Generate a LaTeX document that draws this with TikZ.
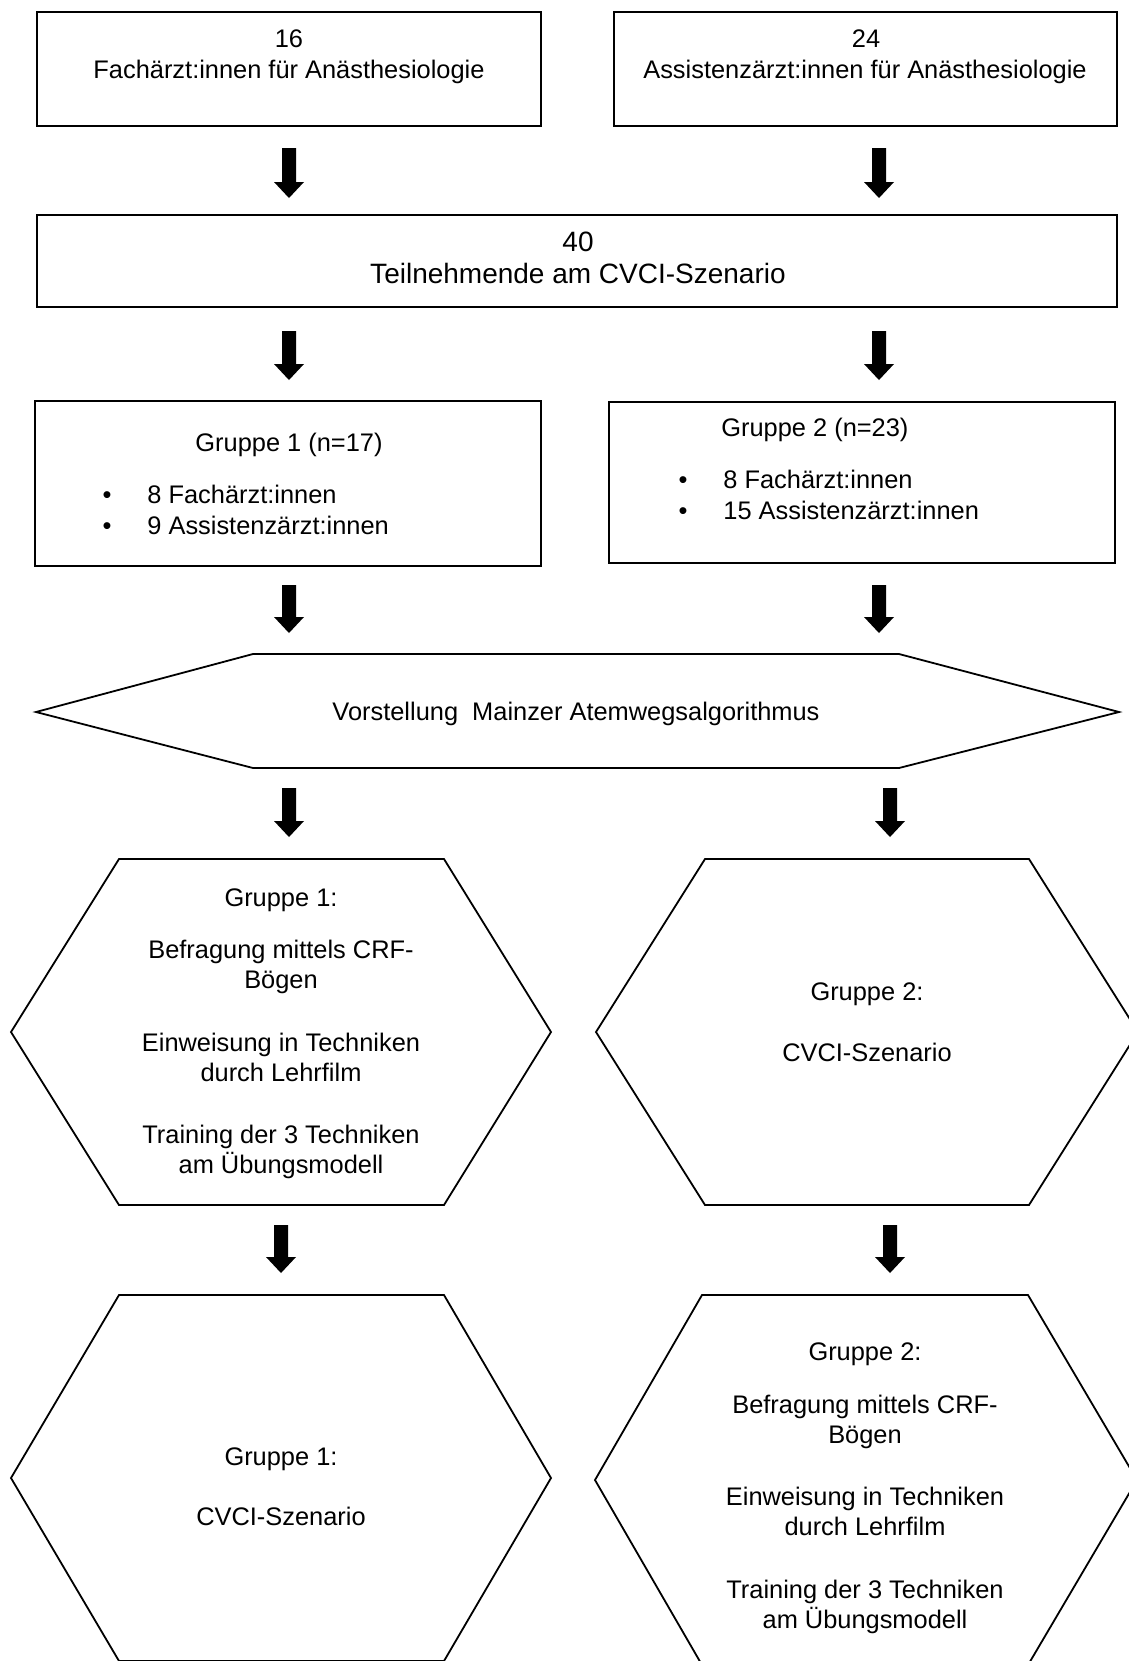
\documentclass[tikz,border=0pt]{standalone}
\usepackage{fontspec}
\setmainfont{Liberation Sans}
\usetikzlibrary{calc,fit}
\newcommand\blkarrow[2]{\fill ($(#1)+(-7,0)$) -- ($(#1)+(7,0)$) -- ($(#2)+(7,-16)$) -- ($(#2)+(15,-16)$) -- (#2) -- ($(#2)+(-15,-16)$) -- ($(#2)+(-7,-16)$) -- cycle;}
\begin{document}
\begin{tikzpicture}[x=0.5pt,y=-0.5pt,
  box/.style={draw, line width=1pt, inner sep=0pt},
  hex/.style={draw, line width=0.9pt, line join=miter},
  txt/.style={inner sep=0pt, anchor=base, font=\fontsize{12.7pt}{15.25pt}\selectfont},
  txtl/.style={txt, anchor=base west},
  big/.style={inner sep=0pt, anchor=base, font=\fontsize{14pt}{16.8pt}\selectfont},
]
\useasboundingbox (0,0) rectangle (1129,1661);
\clip (0,0) rectangle (1129,1661);

% ---- boxes ----
\node[box, fit={(37,12) (541,126)}] (box1) {};
\node[box, fit={(614,12) (1117,126)}] (box2) {};
\node[box, fit={(37,215) (1117,307)}] (box40) {};
\node[box, fit={(35,401) (541,566)}] (g1box) {};
\node[box, fit={(609,402) (1115,563)}] (g2box) {};

\node[txt] (t16) at (289,47) {16};
\node[txt] (t16b) at (289,78) {Fachärzt:innen für Anästhesiologie};
\node[txt] (t24) at (866,47) {24};
\node[txt] (t24b) at (865,78) {Assistenzärzt:innen für Anästhesiologie};
\node[big] (t40) at (578,251) {40};
\node[big] (t40b) at (578,283) {Teilnehmende am CVCI-Szenario};

\node[txt] (g1t) at (289,451) {Gruppe 1 (n=17)};
\node[txt] (g1b1) at (107,503) {•};
\node[txt] (g1b2) at (107,534) {•};
\node[txtl] (g1l1) at (147,503) {8 Fachärzt:innen};
\node[txtl] (g1l2) at (147,534) {9 Assistenzärzt:innen};

\node[txtl] (g2t) at (721,436) {Gruppe 2 (n=23)};
\node[txt] (g2b1) at (683,488) {•};
\node[txt] (g2b2) at (683,519) {•};
\node[txtl] (g2l1) at (723,488) {8 Fachärzt:innen};
\node[txtl] (g2l2) at (723,519) {15 Assistenzärzt:innen};

% ---- arrow-shaped hexagon ----
\draw[hex] (36,712) -- (253,654) -- (899,654) -- (1119,712) -- (899,768) -- (253,768) -- cycle;
\node[txt] (vor) at (576,720) {Vorstellung\ \ Mainzer Atemwegsalgorithmus};

% ---- hexagons ----
\draw[hex] (11,1032) -- (119,859) -- (444,859) -- (551,1032) -- (444,1205) -- (119,1205) -- cycle;
\node[txt] (h1a) at (281,906) {Gruppe 1:};
\node[txt] (h1b) at (281,958) {Befragung mittels CRF-};
\node[txt] (h1c) at (281,988) {Bögen};
\node[txt] (h1d) at (281,1051) {Einweisung in Techniken};
\node[txt] (h1e) at (281,1081) {durch Lehrfilm};
\node[txt] (h1f) at (281,1143) {Training der 3 Techniken};
\node[txt] (h1g) at (281,1173) {am Übungsmodell};

\draw[hex] (596,1032) -- (705,859) -- (1029,859) -- (1138,1032) -- (1029,1205) -- (705,1205) -- cycle;
\node[txt] (h2a) at (867,1000) {Gruppe 2:};
\node[txt] (h2b) at (867,1061) {CVCI-Szenario};

\draw[hex] (11,1478) -- (119,1295) -- (444,1295) -- (551,1478) -- (444,1661) -- (119,1661) -- cycle;
\node[txt] (h3a) at (281,1465) {Gruppe 1:};
\node[txt] (h3b) at (281,1525) {CVCI-Szenario};

\draw[hex] (595,1480) -- (702,1295) -- (1028,1295) -- (1137,1480) -- (1028,1665) -- (702,1665) -- cycle;
\node[txt] (h4a) at (865,1360) {Gruppe 2:};
\node[txt] (h4b) at (865,1413) {Befragung mittels CRF-};
\node[txt] (h4c) at (865,1443) {Bögen};
\node[txt] (h4d) at (865,1505) {Einweisung in Techniken};
\node[txt] (h4e) at (865,1535) {durch Lehrfilm};
\node[txt] (h4f) at (865,1598) {Training der 3 Techniken};
\node[txt] (h4g) at (865,1628) {am Übungsmodell};

% ---- arrows ----
\coordinate (a1ls) at (289,148); \coordinate (a1le) at (289,198);
\coordinate (a1rs) at (879,148); \coordinate (a1re) at (879,198);
\coordinate (a2ls) at (289,331); \coordinate (a2le) at (289,380);
\coordinate (a2rs) at (879,331); \coordinate (a2re) at (879,380);
\coordinate (a3ls) at (289,585); \coordinate (a3le) at (289,633);
\coordinate (a3rs) at (879,585); \coordinate (a3re) at (879,633);
\coordinate (a4ls) at (289,788); \coordinate (a4le) at (289,837);
\coordinate (a4rs) at (890,788); \coordinate (a4re) at (890,837);
\coordinate (a5ls) at (281,1225); \coordinate (a5le) at (281,1273);
\coordinate (a5rs) at (890,1225); \coordinate (a5re) at (890,1273);
\blkarrow{a1ls}{a1le}
\blkarrow{a1rs}{a1re}
\blkarrow{a2ls}{a2le}
\blkarrow{a2rs}{a2re}
\blkarrow{a3ls}{a3le}
\blkarrow{a3rs}{a3re}
\blkarrow{a4ls}{a4le}
\blkarrow{a4rs}{a4re}
\blkarrow{a5ls}{a5le}
\blkarrow{a5rs}{a5re}
\end{tikzpicture}
\end{document}
